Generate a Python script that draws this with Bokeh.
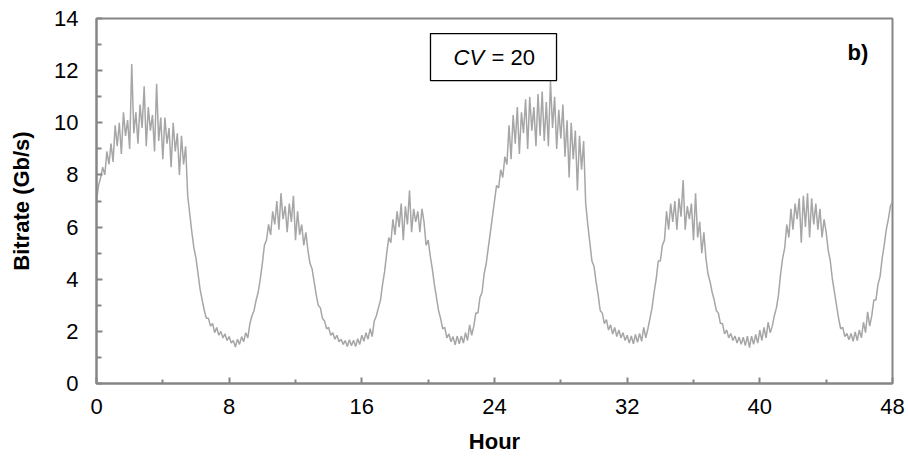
from bokeh.plotting import figure
from bokeh.models import Range1d, FixedTicker, Label, BoxAnnotation
from bokeh.embed import file_html
from bokeh.resources import INLINE

# Hour ticks
x_major = [0, 8, 16, 24, 32, 40, 48]
x_minor = [4, 12, 20, 28, 36, 44]
y_major = [0, 2, 4, 6, 8, 10, 12, 14]
y_minor = [1, 3, 5, 7, 9, 11, 13]

bitrate = [
    7.0, 7.6, 7.9, 8.3, 8.0, 8.9, 8.4, 9.2,          # h0
    8.5, 9.9, 9.1, 10.0, 8.8, 10.4, 9.5, 10.1,       # h1
    9.0, 12.25, 9.6, 10.4, 9.2, 10.7, 9.8, 11.4,     # h2
    9.1, 10.6, 9.7, 10.3, 8.9, 11.5, 9.3, 10.2,      # h3
    8.6, 10.2, 9.2, 9.8, 8.3, 10.0, 8.9, 9.6,        # h4
    8.0, 9.5, 8.4, 9.1, 7.2, 6.5, 5.8, 5.2,          # h5
    4.8, 4.2, 3.6, 3.2, 2.8, 2.5, 2.5, 2.2,          # h6
    2.3, 1.95, 2.15, 1.85, 2.0, 1.75, 1.9, 1.65,     # h7
    1.8, 1.55, 1.65, 1.4, 1.7, 1.5, 1.8, 1.6,        # h8
    1.95, 1.75, 2.3, 2.6, 2.8, 3.2, 3.5, 4.0,        # h9
    4.6, 5.3, 5.5, 6.1, 5.7, 6.6, 6.1, 7.0,          # h10
    5.9, 7.3, 6.3, 6.8, 5.8, 6.9, 6.2, 7.2,          # h11
    5.5, 6.6, 5.7, 6.1, 5.3, 5.8, 5.1, 4.6,          # h12
    4.4, 3.9, 3.4, 3.0, 2.9, 2.5, 2.4, 2.1,          # h13
    2.15, 1.85, 1.95, 1.7, 1.85, 1.6, 1.7, 1.5,      # h14
    1.65, 1.42, 1.68, 1.45, 1.66, 1.42, 1.72, 1.5,   # h15
    1.85, 1.62, 1.95, 1.7, 2.1, 1.8, 2.4, 2.6,       # h16
    2.9, 3.2, 3.8, 4.3, 5.0, 5.6, 5.4, 6.3,          # h17
    5.7, 6.6, 6.0, 6.9, 5.5, 6.8, 6.1, 7.4,          # h18
    5.8, 6.7, 6.2, 6.6, 5.8, 6.7, 6.2, 5.3,          # h19
    5.5, 4.9, 4.4, 3.8, 3.3, 2.8, 2.5, 2.1,          # h20
    2.15, 1.75, 1.9, 1.6, 1.8, 1.48, 1.82, 1.52,     # h21
    1.82, 1.55, 1.95, 1.65, 2.25, 1.85, 2.2, 2.7,    # h22
    2.7, 3.3, 3.5, 4.2, 4.6, 5.2, 5.8, 6.4,          # h23
    7.0, 7.6, 7.5, 8.2, 7.9, 8.7, 8.4, 9.9,          # h24
    8.6, 10.3, 9.2, 10.6, 8.8, 10.4, 9.6, 10.9,      # h25
    9.0, 11.0, 9.7, 10.6, 9.1, 11.1, 9.5, 11.2,      # h26
    9.3, 10.8, 9.1, 11.6, 9.8, 11.0, 9.0, 10.5,      # h27
    9.4, 10.7, 8.7, 10.1, 7.9, 10.0, 8.6, 9.7,       # h28
    7.4, 9.5, 8.2, 9.3, 6.9, 6.1, 5.4, 4.7,          # h29
    4.5, 3.9, 3.4, 2.8, 2.7, 2.3, 2.45, 2.05,        # h30
    2.25, 1.9, 2.15, 1.8, 2.05, 1.75, 1.95, 1.65,    # h31
    1.85, 1.55, 1.82, 1.52, 1.88, 1.58, 1.92, 1.62,  # h32
    2.15, 1.75, 2.1, 2.5, 2.9, 3.5, 4.0, 4.7,        # h33
    4.7, 5.3, 5.5, 6.6, 5.9, 6.9, 6.2, 7.0,          # h34
    5.9, 7.1, 6.4, 7.8, 5.9, 6.8, 6.3, 6.9,          # h35
    5.5, 7.3, 5.6, 6.2, 5.0, 5.8, 4.8, 4.2,          # h36
    3.9, 3.5, 3.2, 2.8, 2.7, 2.3, 2.3, 1.9,          # h37
    2.05, 1.75, 1.92, 1.65, 1.82, 1.55, 1.78, 1.5,   # h38
    1.78, 1.45, 1.82, 1.38, 1.82, 1.5, 1.88, 1.55,   # h39
    2.05, 1.65, 2.15, 1.75, 2.35, 1.95, 2.2, 2.6,    # h40
    2.9, 3.4, 4.2, 4.8, 5.2, 6.1, 5.6, 6.7,          # h41
    5.9, 6.9, 6.3, 7.1, 5.4, 7.2, 6.0, 7.3,          # h42
    5.6, 7.1, 6.1, 6.9, 5.9, 6.7, 5.6, 6.3,          # h43
    5.8, 5.1, 4.7, 4.0, 3.5, 3.0, 2.5, 2.1,          # h44
    2.15, 1.8, 1.92, 1.68, 1.92, 1.62, 1.98, 1.65,   # h45
    2.05, 1.75, 2.35, 1.95, 2.75, 2.2, 2.6, 3.2,     # h46
    3.2, 3.8, 4.1, 4.8, 5.3, 5.9, 6.3, 6.8,          # h47
    7.0,                                              # h48
]
hours = [i * 0.125 for i in range(len(bitrate))]

FONT = "Liberation Sans"
AXIS_GREY = "#868686"
LINE_GREY = "#a6a6a6"

p = figure(width=908, height=457, output_backend="svg", toolbar_location=None,
           x_range=Range1d(0, 48), y_range=Range1d(0, 14),
           min_border_left=96, min_border_right=16, min_border_top=18,
           min_border_bottom=74)
p.grid.visible = False
p.outline_line_color = AXIS_GREY
p.outline_line_width = 2
p.background_fill_color = "white"
p.border_fill_color = "white"

p.line(hours, bitrate, line_color=LINE_GREY, line_width=1.5)

for ax in (p.xaxis[0], p.yaxis[0]):
    ax.axis_line_color = AXIS_GREY
    ax.axis_line_width = 2
    ax.major_tick_line_color = AXIS_GREY
    ax.minor_tick_line_color = AXIS_GREY
    ax.major_tick_line_width = 2
    ax.minor_tick_line_width = 2
    ax.major_tick_out = 0
    ax.minor_tick_out = 0
    ax.major_label_text_font = FONT
    ax.major_label_text_font_size = "22px"
    ax.major_label_text_color = "black"
    ax.axis_label_text_font = FONT
    ax.axis_label_text_font_size = "22px"
    ax.axis_label_text_font_style = "bold"
    ax.axis_label_text_color = "black"

p.xaxis.ticker = FixedTicker(ticks=x_major, minor_ticks=x_minor)
p.yaxis.ticker = FixedTicker(ticks=y_major, minor_ticks=y_minor)
p.xaxis.major_tick_in = 6
p.xaxis.minor_tick_in = 4
p.yaxis.major_tick_in = 6
p.yaxis.minor_tick_in = 5
p.xaxis.major_label_standoff = 15
p.yaxis.major_label_standoff = 18

p.yaxis.axis_label = "Bitrate (Gb/s)"
p.yaxis.axis_label_standoff = 17
p.xaxis.axis_label = "Hour"
p.xaxis.axis_label_standoff = 12

# CV box
p.add_layout(BoxAnnotation(left=20.14, right=27.74, bottom=11.62, top=13.42,
                           fill_color="white", fill_alpha=1.0,
                           line_color="black", line_width=1.3,
                           line_alpha=1.0))
p.add_layout(Label(x=21.53, y=12.5, text="CV", text_align="left",
                   text_baseline="alphabetic", text_font=FONT,
                   text_font_size="22px", text_font_style="italic",
                   text_color="black"))
p.add_layout(Label(x=23.82, y=12.5, text="= 20", text_align="left",
                   text_baseline="alphabetic", text_font=FONT,
                   text_font_size="22px", text_color="black"))

p.add_layout(Label(x=45.29, y=12.7, text="b)", text_align="left",
                   text_baseline="alphabetic", text_font=FONT,
                   text_font_size="22px", text_font_style="bold",
                   text_color="black"))

open("out.html", "w").write(file_html(p, INLINE))
